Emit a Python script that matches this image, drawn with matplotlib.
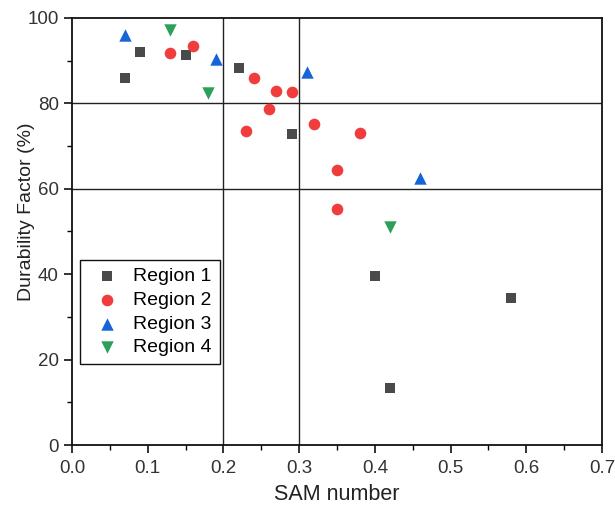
import matplotlib
matplotlib.use("Agg")
import matplotlib.pyplot as plt
import matplotlib.ticker as mt

plt.rcParams['font.family'] = ['Liberation Sans', 'DejaVu Sans']

r1_x = [0.07, 0.09, 0.15, 0.22, 0.29, 0.40, 0.58, 0.42]
r1_y = [86.0, 92.0, 91.3, 88.3, 72.9, 39.6, 34.4, 13.4]
r2_x = [0.13, 0.16, 0.24, 0.27, 0.29, 0.26, 0.23, 0.32, 0.38, 0.35, 0.35]
r2_y = [91.8, 93.4, 85.9, 82.9, 82.7, 78.7, 73.5, 75.2, 73.1, 64.4, 55.3]
r3_x = [0.07, 0.19, 0.31, 0.46]
r3_y = [96.0, 90.5, 87.3, 62.5]
r4_x = [0.13, 0.18, 0.42]
r4_y = [97.3, 82.5, 51.0]

vlines = [0.2, 0.3]
hlines = [80, 60]

fig = plt.figure(figsize=(6.15, 5.05), dpi=100)
ax = fig.add_axes([72/615, 1-445/505, 530/615, 427/505])

for v in vlines:
    ax.axvline(v, color='#222222', lw=1.0, zorder=1)
for h in hlines:
    ax.axhline(h, color='#222222', lw=1.0, zorder=1)

ax.scatter(r1_x, r1_y, marker='s', s=55, color='#4a4a4a', label='Region 1', zorder=3, linewidths=0)
ax.scatter(r2_x, r2_y, marker='o', s=70, color='#f03c3c', label='Region 2', zorder=3, linewidths=0)
ax.scatter(r3_x, r3_y, marker='^', s=80, color='#1565d8', label='Region 3', zorder=3, linewidths=0)
ax.scatter(r4_x, r4_y, marker='v', s=80, color='#2ca05a', label='Region 4', zorder=3, linewidths=0)

ax.set_xlim(0, 0.7)
ax.set_ylim(0, 100)
ax.xaxis.set_major_locator(mt.MultipleLocator(0.1))
ax.xaxis.set_minor_locator(mt.MultipleLocator(0.05))
ax.yaxis.set_major_locator(mt.MultipleLocator(20))
ax.yaxis.set_minor_locator(mt.MultipleLocator(10))
ax.xaxis.set_major_formatter(mt.FormatStrFormatter('%.1f'))
ax.tick_params(which='major', direction='out', length=6, width=1.2, labelsize=13.5,
               colors='#111111', labelcolor='#333333')
ax.tick_params(axis='x', which='major', pad=5)
ax.tick_params(which='minor', direction='out', length=3.5, width=1.0)
for sp in ax.spines.values():
    sp.set_linewidth(1.3)
    sp.set_color('#111111')

ax.set_xlabel('SAM number', fontsize=15.5, color='#222222', labelpad=5)
ax.set_ylabel('Durability Factor (%)', fontsize=14, color='#222222')
ax.yaxis.set_label_coords((35-72)/530, (445-212)/427)

leg = ax.legend(loc='upper left', bbox_to_anchor=(0.015, 0.433), fontsize=14,
                frameon=True, fancybox=False, edgecolor='#111111', framealpha=1,
                handletextpad=0.35, borderpad=0.4, labelspacing=0.31, borderaxespad=0)
leg.get_frame().set_linewidth(1.0)

fig.savefig('out.png', dpi=100)
